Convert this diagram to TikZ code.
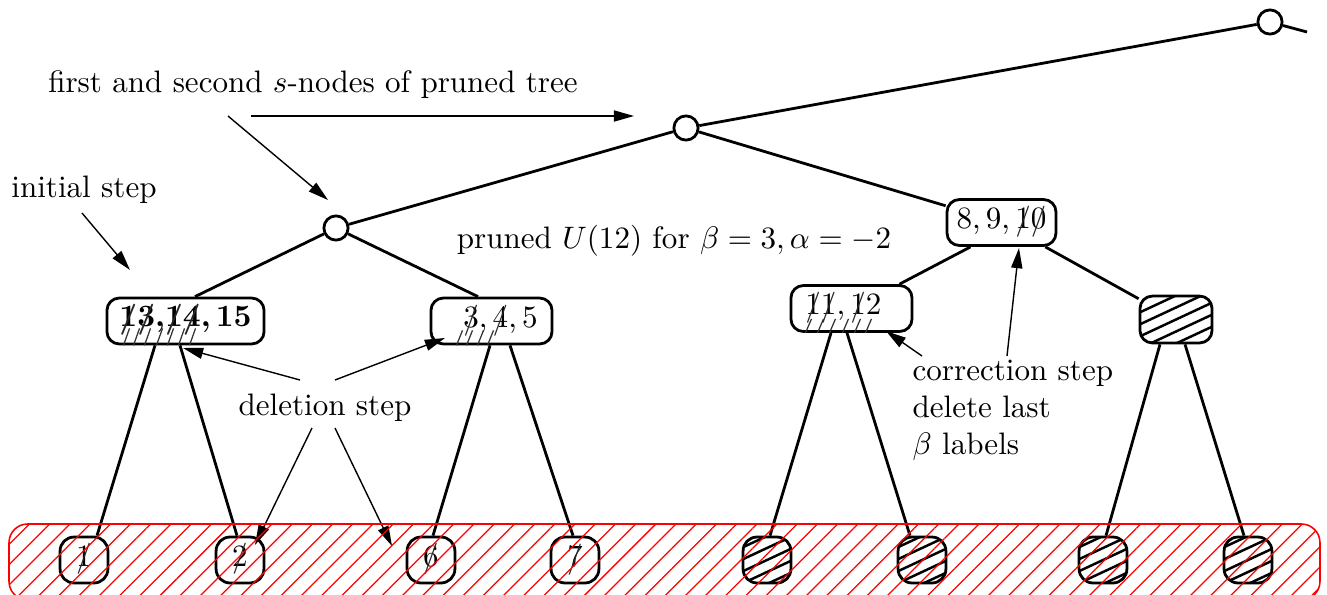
\documentclass[tikz,border=0pt]{standalone}
\usetikzlibrary{calc,arrows.meta,patterns.meta}
\newcommand\crs[1]{\ooalign{#1\cr\hidewidth\raisebox{-0.3pt}{\textcolor{black!85}{/}}\hidewidth\cr}}
\tikzset{
  x=0.322pt, y=-0.322pt,
  edge/.style={line width=0.9pt},
  arr/.style={line width=0.45pt, -{Triangle[length=6.5pt,width=3.6pt]}},
  snode/.style={circle, draw, line width=0.9pt, fill=white, minimum size=7.8pt, inner sep=0pt},
  lab/.style={draw, line width=0.9pt, rounded corners=4pt, inner sep=0pt, minimum height=14.8pt},
  leaf/.style={draw, line width=0.9pt, rounded corners=4.5pt, inner sep=0pt, minimum width=15.4pt, minimum height=14.8pt},
  blk/.style={path picture={\foreach \k in {-5,...,5}{\draw[line width=0.8pt] ($(path picture bounding box.center)+(-45,\k*12+21)$) -- ++(90,-42);}}},
  txt/.style={inner sep=0pt},
  hatch/.style={line width=0.4pt, black!80}
}
\begin{document}
\begin{tikzpicture}
\useasboundingbox (0,0) rectangle (1327,594);
\clip (0,0) rectangle (1327,594);

% s-nodes
\node[snode] (s0) at (1270,22) {};
\node[snode] (s2) at (686,128) {};
\node[snode] (s1) at (336,228) {};
\coordinate (stub) at (1307,32);

% labelled nodes
\node[lab, minimum width=50.6pt] (a) at (185.5,321) {\textbf{\crs{1}\crs{3},\crs{1}\crs{4},\,15}};
\node[lab, minimum width=39pt] (b) at (491.5,321) {\hspace*{5.8pt}\crs{3},\,\crs{4},\,5};
\node[lab, minimum width=35.1pt] (c) at (1001.5,222.5) {8,\,9,\,\crs{1}\crs{0}};
\node[lab, minimum width=39pt] (d) at (851.5,308.5) {\crs{1}\crs{1},\,\crs{1}2\hspace*{5.2pt}};
\node[lab, blk, minimum width=23.2pt, minimum height=15.1pt] (e) at (1176,319.5) {};

% leaves
\node[leaf] (l1) at (84,560) {\crs{1}};
\node[leaf] (l2) at (240,560) {\crs{2}};
\node[leaf] (l3) at (431,560) {\crs{6}};
\node[leaf] (l4) at (575,560) {\crs{7}};
\node[leaf, blk] (l5) at (767,560) {};
\node[leaf, blk] (l6) at (922,560) {};
\node[leaf, blk] (l7) at (1103,560) {};
\node[leaf, blk] (l8) at (1248,560) {};

% tree edges
\draw[edge] (s0) -- (stub);
\draw[edge] (s0) -- (s2);
\draw[edge] (s2) -- (s1);
\draw[edge] (s2) -- (c);
\draw[edge] (s1) -- ($(a.north)+(9.5,0)$);
\draw[edge] (s1) -- ($(b.north)+(-13.5,0)$);
\draw[edge] ($(c.south)+(-31,0)$) -- ($(d.north)+(48,0)$);
\draw[edge] (c) -- (e);
\draw[edge] ($(a.south)+(-30.5,0)$) -- ($(l1.north)+(13,0)$);
\draw[edge] ($(a.south)+(-5.5,0)$) -- ($(l2.north)+(-3,0)$);
\draw[edge] ($(b.south)+(-1.5,0)$) -- ($(l3.north)+(2,0)$);
\draw[edge] ($(b.south)+(18.5,0)$) -- ($(l4.north)+(-2,0)$);
\draw[edge] ($(d.south)+(-20.5,0)$) -- ($(l5.north)+(3,0)$);
\draw[edge] ($(d.south)+(-4.5,0)$) -- ($(l6.north)+(-12,0)$);
\draw[edge] ($(e.south)+(-16,0)$) -- ($(l7.north)+(3,0)$);
\draw[edge] ($(e.south)+(9,0)$) -- ($(l8.north)+(-4,0)$);

% extra strike hatching under crossed labels
\foreach \dx in {-62,-52,-41,-29,-18,-7,4}{\draw[hatch] ($(a.south)+(\dx,0)$) -- ++(6,-17);}
\foreach \dx in {-35,-25,-14,-4}{\draw[hatch] ($(b.south)+(\dx,0)$) -- ++(6,-15);}
\foreach \dx in {-46,-34,-22,-9,3,14}{\draw[hatch] ($(d.south)+(\dx,0)$) -- ++(6,-14);}

% annotations
\node[txt] (t1) at (313,85) {first and second $s$-nodes of pruned tree};
\node[txt] (t2) at (84,190) {initial step};
\node[txt] (del) at (325,408) {deletion step};
\node[txt] (pr) at (674,241) {pruned $U(12)$ for $\beta=3,\alpha=-2$};
\node[txt, align=left, anchor=north west] (cor) at (912,359) {correction step\\delete last\\$\beta$ labels};

\coordinate (f1) at (251,116); \coordinate (f2) at (634,116);
\coordinate (f3) at (228,116); \coordinate (f4) at (328,200);
\draw[arr] (f1) -- (f2);
\draw[arr] (f3) -- (f4);
\coordinate (i1) at (82,213); \coordinate (i2) at (130,270);
\draw[arr] (i1) -- (i2);
\coordinate (d1) at (300,380); \coordinate (d1e) at (183,348);
\coordinate (d2) at (335,380); \coordinate (d2e) at (445,338);
\coordinate (d3) at (312,428); \coordinate (d3e) at (255,545);
\coordinate (d4) at (335,428); \coordinate (d4e) at (392,546);
\draw[arr] (d1) -- (d1e);
\draw[arr] (d2) -- (d2e);
\draw[arr] (d3) -- (d3e);
\draw[arr] (d4) -- (d4e);
\coordinate (c1) at (922,356); \coordinate (c1e) at (886,331);
\coordinate (c2) at (1007,356); \coordinate (c2e) at (1019,248);
\draw[arr] (c1) -- (c1e);
\draw[arr] (c2) -- (c2e);

% red hatched region
\path[pattern={Lines[angle=45,distance=4.6pt,line width=0.4pt]}, pattern color=red, rounded corners=6pt] (9,524) rectangle (1320,600);
\draw[red, line width=0.5pt, rounded corners=6pt] (9,524) rectangle (1320,600);
\end{tikzpicture}
\end{document}
